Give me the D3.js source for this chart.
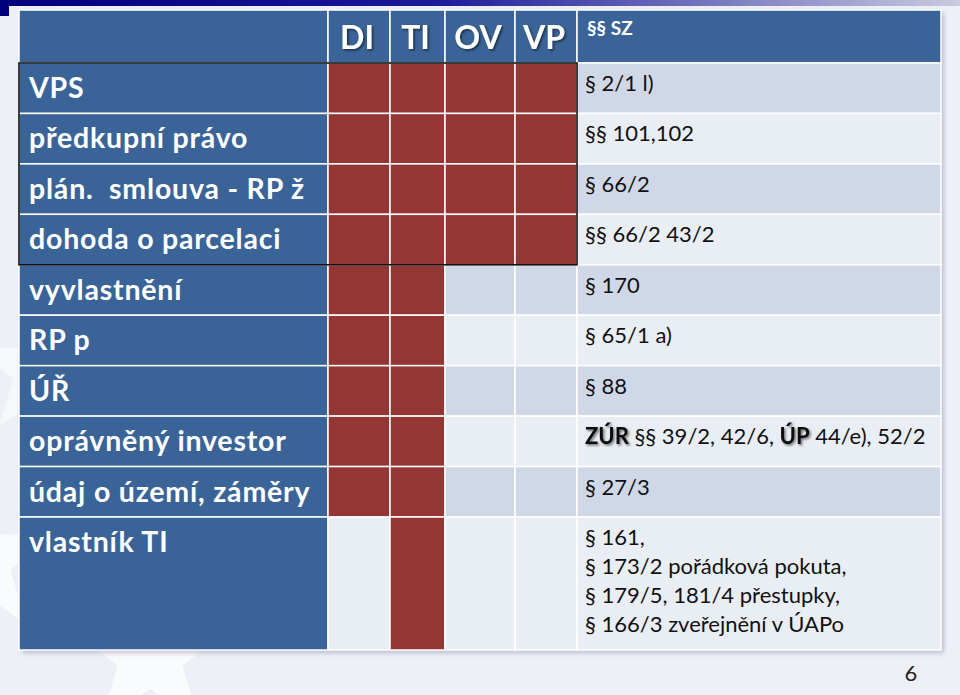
<!DOCTYPE html>
<html>
<head>
<meta charset="utf-8">
<script src="https://cdn.jsdelivr.net/npm/d3@7"></script>
<style>
  html, body { margin: 0; padding: 0; background: #eef0f8; }
  svg { display: block; }
</style>
</head>
<body>
<svg id="slide"></svg>
<script>
// data
const columns = ["DI", "TI", "OV", "VP"];
const szHeader = "§§ SZ";
const rowLabels = [
  "VPS",
  "předkupní právo",
  "plán.  smlouva - RP ž",
  "dohoda o parcelaci",
  "vyvlastnění",
  "RP p",
  "ÚŘ",
  "oprávněný investor",
  "údaj o území, záměry",
  "vlastník TI"
];
// 1 = red cell for DI, TI, OV, VP
const marks = [
  [1, 1, 1, 1],
  [1, 1, 1, 1],
  [1, 1, 1, 1],
  [1, 1, 1, 1],
  [1, 1, 0, 0],
  [1, 1, 0, 0],
  [1, 1, 0, 0],
  [1, 1, 0, 0],
  [1, 1, 0, 0],
  [0, 1, 0, 0]
];
// text of SZ column, each row is a list of lines, each line a list of [text, bold]
const szText = [
  [[["§ 2/1 l)", 0]]],
  [[["§§ 101,102", 0]]],
  [[["§ 66/2", 0]]],
  [[["§§ 66/2 43/2", 0]]],
  [[["§ 170", 0]]],
  [[["§ 65/1 a)", 0]]],
  [[["§ 88", 0]]],
  [[["ZÚR", 1], [" §§ 39/2, 42/6, ", 0], ["ÚP", 1], [" 44/e), 52/2", 0]]],
  [[["§ 27/3", 0]]],
  [
    [["§ 161,", 0]],
    [["§ 173/2 pořádková pokuta,", 0]],
    [["§ 179/5, 181/4 přestupky,", 0]],
    [["§ 166/3 zveřejnění v ÚAPo", 0]]
  ]
];
const pageNumber = "6";

// layout
const W = 960, H = 695;
const tableLeft = 19, tableRight = 941, tableTop = 10, headerBottom = 63, tableBottom = 650;
const colEdges = { label: 19, DI: 328, TI: 390, OV: 445, VP: 515, SZ: 577 };
const colX = d3.scaleOrdinal().domain(Object.keys(colEdges)).range(Object.values(colEdges));
const colW = k => {
  const keys = Object.keys(colEdges);
  const i = keys.indexOf(k);
  return (i < keys.length - 1 ? colEdges[keys[i + 1]] : tableRight) - colEdges[k];
};
const y = d3.scaleLinear().domain([0, rowLabels.length - 1]).range([headerBottom, 517]);
const rowTop = i => y(i);
const rowBottom = i => (i === rowLabels.length - 1 ? tableBottom : y(i + 1));

const blue = "#3a6497", red = "#943634";
const bandDark = "#d0d8e8", bandLight = "#e9edf4";
const font = "Lato, 'Open Sans', sans-serif";

const svg = d3.select("#slide").attr("width", W).attr("height", H);
const defs = svg.append("defs");

const grad = defs.append("linearGradient").attr("id", "topbar");
grad.append("stop").attr("offset", "0%").attr("stop-color", "#00007a");
grad.append("stop").attr("offset", "45%").attr("stop-color", "#1a1a9a");
grad.append("stop").attr("offset", "100%").attr("stop-color", "#c9cbe0");

const shadow = defs.append("filter").attr("id", "tshadow")
  .attr("x", "-10%").attr("y", "-10%").attr("width", "130%").attr("height", "130%");
shadow.append("feDropShadow").attr("dx", 1.5).attr("dy", 1.5).attr("stdDeviation", 0.8)
  .attr("flood-color", "#000").attr("flood-opacity", 0.55);

const boxShadow = defs.append("filter").attr("id", "bshadow")
  .attr("x", "-5%").attr("y", "-5%").attr("width", "110%").attr("height", "110%");
boxShadow.append("feDropShadow").attr("dx", 3).attr("dy", 3).attr("stdDeviation", 2.5)
  .attr("flood-color", "#7a7f99").attr("flood-opacity", 0.45);

// background
svg.append("rect").attr("width", W).attr("height", H).attr("fill", "#eef0f8");

// faint stars
function starPath(cx, cy, r) {
  const pts = d3.range(10).map(i => {
    const a = -Math.PI / 2 + i * Math.PI / 5;
    const rr = i % 2 === 0 ? r : r * 0.4;
    return [cx + rr * Math.cos(a), cy + rr * Math.sin(a)];
  });
  return d3.line()(pts) + "Z";
}
svg.append("path").attr("d", starPath(150, 655, 85)).attr("fill", "#fff").attr("opacity", 0.7);
svg.append("path").attr("d", starPath(-20, 560, 80)).attr("fill", "#fff").attr("opacity", 0.7);
svg.append("path").attr("d", starPath(40, 370, 70)).attr("fill", "#fff").attr("opacity", 0.5);

// top bar
svg.append("rect").attr("x", 0).attr("y", 0).attr("width", W).attr("height", 6).attr("fill", "url(#topbar)");
svg.append("rect").attr("x", 0).attr("y", 0).attr("width", 9).attr("height", 16).attr("fill", "#00007a");

// table
const table = svg.append("g");
table.append("rect")
  .attr("x", tableLeft).attr("y", tableTop)
  .attr("width", tableRight - tableLeft).attr("height", tableBottom - tableTop)
  .attr("fill", "#fff").attr("filter", "url(#bshadow)");

const cells = [];
["label", ...columns, "SZ"].forEach(k => {
  cells.push({ key: k, row: -1, x: colX(k), y: tableTop, w: colW(k), h: headerBottom - tableTop, fill: blue });
});
rowLabels.forEach((lab, i) => {
  const band = i % 2 === 0 ? bandDark : bandLight;
  cells.push({ key: "label", row: i, x: colX("label"), y: rowTop(i), w: colW("label"), h: rowBottom(i) - rowTop(i), fill: blue });
  columns.forEach((c, j) => {
    cells.push({ key: c, row: i, x: colX(c), y: rowTop(i), w: colW(c), h: rowBottom(i) - rowTop(i), fill: marks[i][j] ? red : band });
  });
  cells.push({ key: "SZ", row: i, x: colX("SZ"), y: rowTop(i), w: colW("SZ"), h: rowBottom(i) - rowTop(i), fill: band });
});

table.selectAll("rect.cell")
  .data(cells)
  .enter()
  .append("rect")
  .attr("class", "cell")
  .attr("x", d => d.x)
  .attr("y", d => d.y)
  .attr("width", d => d.w)
  .attr("height", d => d.h)
  .attr("fill", d => d.fill)
  .attr("stroke", "#fff")
  .attr("stroke-width", 1.5);

// black frame around first four rows
table.append("rect")
  .attr("x", colX("label")).attr("y", rowTop(0))
  .attr("width", colX("SZ") - colX("label")).attr("height", rowTop(4) - rowTop(0))
  .attr("fill", "none").attr("stroke", "#111").attr("stroke-width", 1.6);

// header text
table.selectAll("text.colhead")
  .data(columns)
  .enter()
  .append("text")
  .attr("class", "colhead")
  .attr("x", d => colX(d) + colW(d) / 2 - 2)
  .attr("y", 49)
  .attr("text-anchor", "middle")
  .attr("font-family", font)
  .attr("font-weight", "bold")
  .attr("font-size", 32)
  .attr("fill", "#fff")
  .attr("filter", "url(#tshadow)")
  .text(d => d);

table.append("text")
  .attr("x", colX("SZ") + 10)
  .attr("y", 35)
  .attr("font-family", font)
  .attr("font-weight", "bold")
  .attr("font-size", 19)
  .attr("fill", "#fff")
  .text(szHeader);

// row labels
table.selectAll("text.rowlab")
  .data(rowLabels)
  .enter()
  .append("text")
  .attr("class", "rowlab")
  .attr("x", colX("label") + 10)
  .attr("y", (d, i) => rowTop(i) + 35)
  .attr("font-family", font)
  .attr("font-weight", "bold")
  .attr("font-size", 28.5)
  .attr("letter-spacing", 0.8)
  .attr("fill", "#fff")
  .style("white-space", "pre")
  .text(d => d);

// SZ column text
szText.forEach((lines, i) => {
  lines.forEach((segs, li) => {
    const t = table.append("text")
      .attr("x", colX("SZ") + 8)
      .attr("y", rowTop(i) + 28 + li * 29)
      .attr("font-family", font)
      .attr("font-size", 22)
      .attr("fill", "#111")
      .style("white-space", "pre");
    segs.forEach(([s, b]) => {
      const ts = t.append("tspan").text(s);
      if (b) ts.attr("font-weight", "bold").attr("filter", "url(#tshadow)");
    });
  });
});

// page number
svg.append("text")
  .attr("x", 911)
  .attr("y", 681)
  .attr("text-anchor", "middle")
  .attr("font-family", font)
  .attr("font-size", 22)
  .attr("fill", "#222")
  .text(pageNumber);
</script>
</body>
</html>
